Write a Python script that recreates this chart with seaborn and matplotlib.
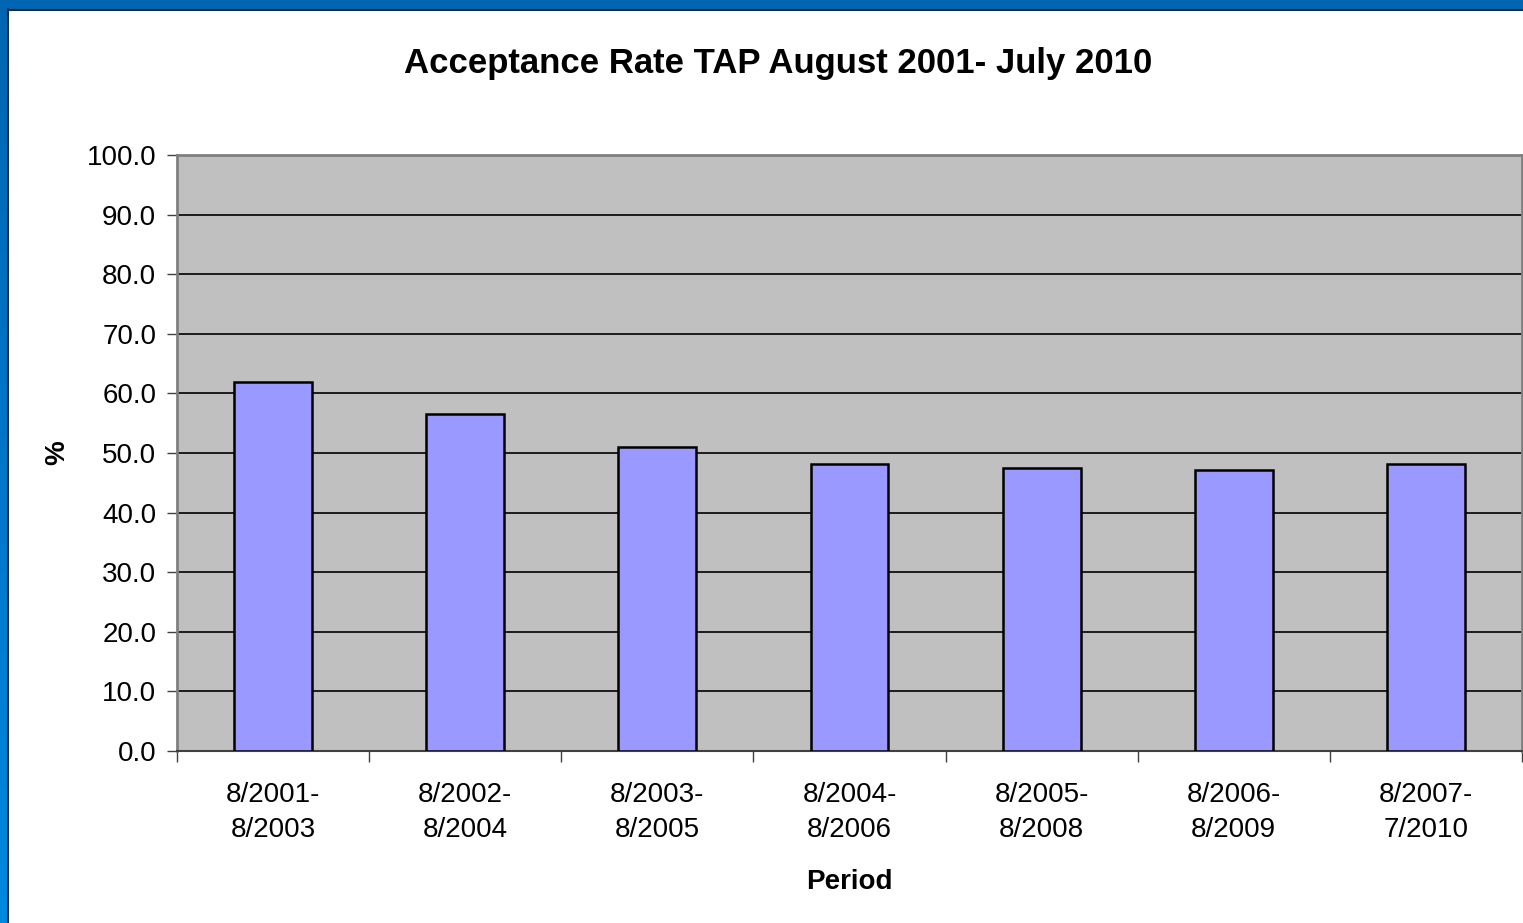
import matplotlib
matplotlib.use("Agg")
import matplotlib.pyplot as plt
import seaborn as sns
import numpy as np
import pandas as pd
from matplotlib.patches import Rectangle

periods = ["8/2001-\n8/2003", "8/2002-\n8/2004", "8/2003-\n8/2005", "8/2004-\n8/2006",
           "8/2005-\n8/2008", "8/2006-\n8/2009", "8/2007-\n7/2010"]
rates = [61.9, 56.5, 51.0, 48.2, 47.5, 47.1, 48.2]
yticks = [0, 10, 20, 30, 40, 50, 60, 70, 80, 90, 100]

sns.set_style("white")
plt.rcParams['font.family'] = ['Liberation Sans', 'DejaVu Sans']
plt.rcParams['text.color'] = 'black'
plt.rcParams['axes.labelcolor'] = 'black'
plt.rcParams['xtick.color'] = 'black'
plt.rcParams['ytick.color'] = 'black'

fig = plt.figure(figsize=(15.23, 9.23), dpi=100)
W, H = 1523, 923

# blue frame (top and left)
fig.patches.append(Rectangle((0, 1 - 9 / H), 1, 9 / H, transform=fig.transFigure,
                             facecolor="#0066b3", edgecolor="none", zorder=0))
grad = np.linspace(0, 1, 256).reshape(-1, 1)
axg = fig.add_axes([0, 0, 7 / W, 1 - 9 / H])
axg.imshow(grad, aspect="auto", cmap=matplotlib.colors.LinearSegmentedColormap.from_list(
    "b", ["#0066b3", "#0088e0"]), origin="upper")
axg.axis("off")
fig.add_artist(plt.Line2D([7.5 / W, 7.5 / W], [0, 1 - 9 / H], transform=fig.transFigure,
                          color="#1a2a3a", lw=1.5))
fig.add_artist(plt.Line2D([7.5 / W, 1], [1 - 9.5 / H, 1 - 9.5 / H], transform=fig.transFigure,
                          color="#1a2a3a", lw=1.5))

ax = fig.add_axes([177 / W, 1 - 751 / H, (1522 - 177) / W, (751 - 155) / H])
ax.set_facecolor("#c0c0c0")

df = pd.DataFrame({"Period": periods, "Rate": rates})
sns.barplot(data=df, x="Period", y="Rate", ax=ax, color="#9999ff", width=0.405,
            edgecolor="black", linewidth=1.8, saturation=1, zorder=3)

ax.set_ylim(0, 100)
ax.set_xlim(-0.5, len(periods) - 0.5)
ax.set_yticks(yticks)
ax.set_yticklabels([f"{v:.1f}" for v in yticks], fontsize=20)
ax.yaxis.grid(True, color="black", lw=1.2, zorder=1)
ax.set_axisbelow(True)

ax.set_xticks(np.arange(len(periods)))
ax.set_xticklabels(periods, fontsize=20, linespacing=1.45)
ax.tick_params(axis="x", length=0, pad=22)
ax.tick_params(axis="y", length=7, width=1, color="#404040", pad=8, left=True)
# minor ticks at category boundaries
ax.set_xticks(np.arange(-0.5, len(periods)), minor=True)
ax.tick_params(axis="x", which="minor", length=8, width=1, color="#404040", bottom=True)

for s in ["top", "right", "left"]:
    ax.spines[s].set_color("#808080")
    ax.spines[s].set_linewidth(2)
ax.spines["bottom"].set_color("#404040")
ax.spines["bottom"].set_linewidth(1.5)

ax.set_xlabel("Period", fontsize=20, fontweight="bold", labelpad=19)
ax.set_ylabel("%", fontsize=20, fontweight="bold", labelpad=12)

fig.text(778 / W, 1 - 63 / H, "Acceptance Rate TAP August 2001- July 2010",
         ha="center", va="center", fontsize=25, fontweight="bold")

fig.savefig("out.png", dpi=100)
